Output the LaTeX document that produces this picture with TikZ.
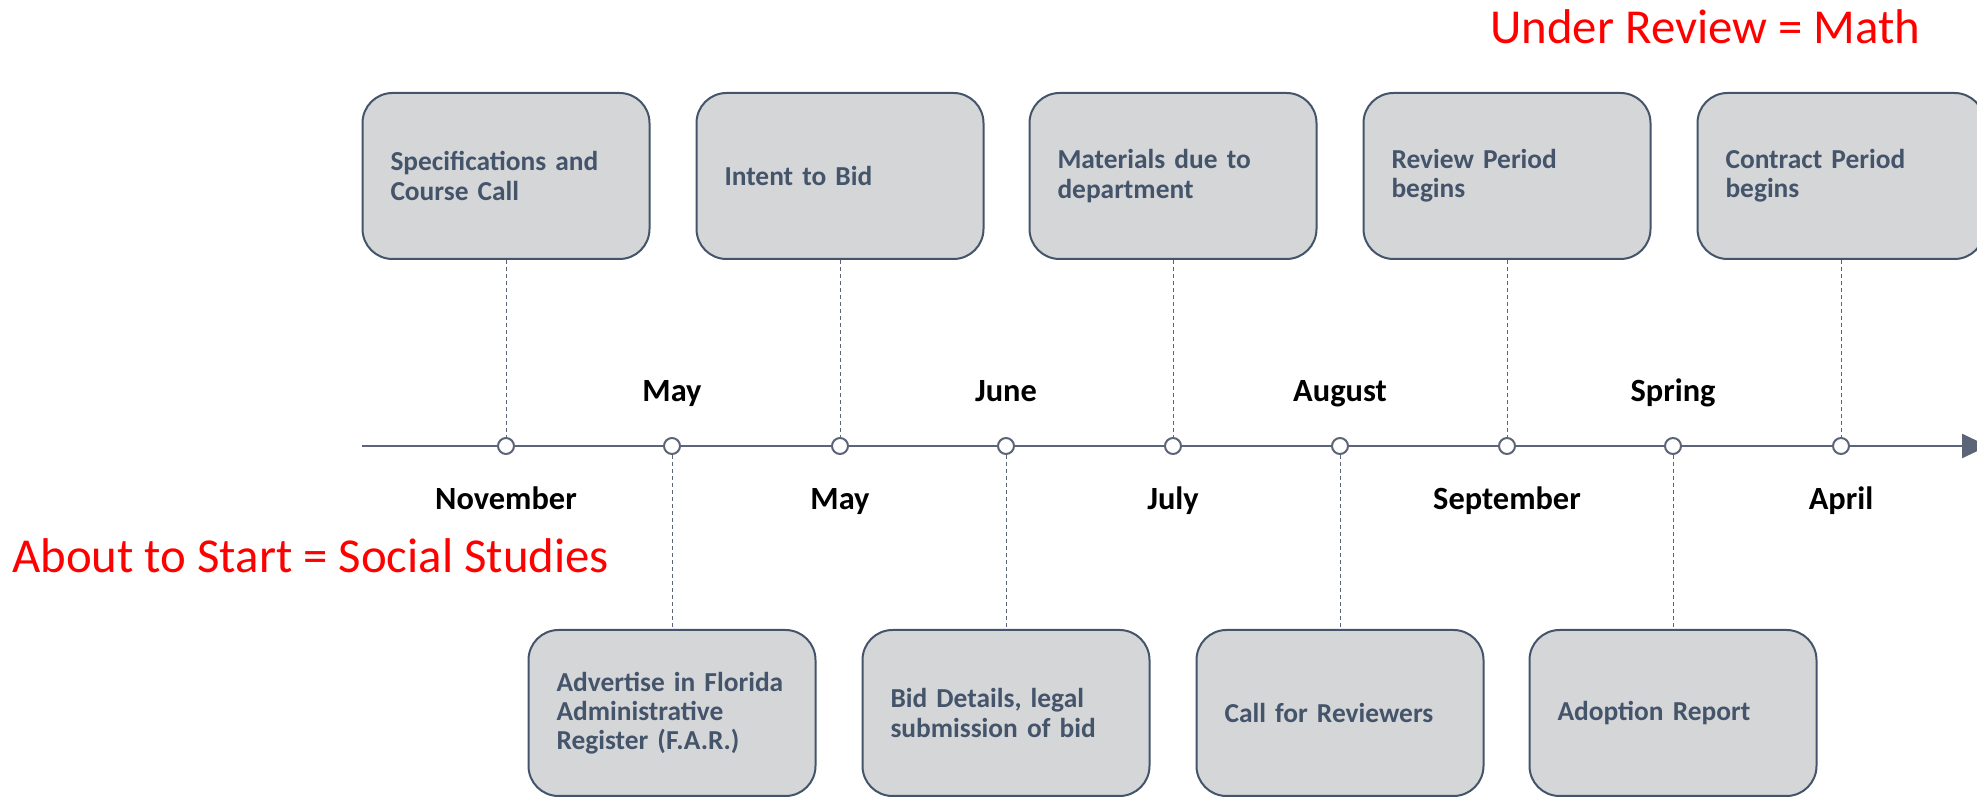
\documentclass[tikz,border=0pt]{standalone}
\usepackage{fontspec}
\setmainfont{Carlito}
\usetikzlibrary{arrows.meta}
\definecolor{slate}{HTML}{44546A}
\definecolor{boxgray}{HTML}{D5D6D8}
\definecolor{axisgray}{HTML}{5B6577}

\begin{document}
\begin{tikzpicture}[x=0.5pt,y=-0.5pt,
  event/.style={draw=slate, line width=1pt, fill=boxgray, rounded corners=15pt,
    text width=115.5pt, inner xsep=14pt, minimum height=83pt, align=left,
    text=slate, font=\fontsize{13.7}{14.6}\selectfont\bfseries},
  dot/.style={circle, draw=axisgray, fill=white, line width=1pt, minimum size=8pt, inner sep=0pt},
  month/.style={anchor=base, font=\fontsize{16.2}{18}\selectfont\bfseries},
  link/.style={draw=axisgray, line width=0.5pt, dash pattern=on 2pt off 1.5pt},
  note/.style={anchor=base west, inner sep=0pt, text=red, font=\fontsize{24.4}{28}\selectfont}]
\useasboundingbox (0,0) rectangle (1977,801);

% Time axis
\coordinate (start) at (362,446);
\coordinate (end) at (1988,446);
\draw[axisgray, line width=1.25pt, -{Triangle[length=13pt,width=12pt]}] (start) -- (end);

% Events above the axis
\node[event] (spec) at (506,176) {Specifications and\\Course Call};
\node[event] (intent) at (840,176) {Intent to Bid};
\node[event] (materials) at (1173,176) {Materials due to\\department};
\node[event] (review) at (1507,176) {Review Period\\begins};
\node[event] (contract) at (1841,176) {Contract Period\\begins};

% Events below the axis
\node[event] (advertise) at (672,713) {Advertise in Florida\\Administrative\\Register (F.A.R.)};
\node[event] (bid) at (1006,713) {Bid Details, legal\\submission of bid};
\node[event] (reviewers) at (1340,713) {Call for Reviewers};
\node[event] (adoption) at (1673,713) {Adoption Report};

% Dots on the axis
\foreach \n/\x in {1/506,2/672,3/840,4/1006,5/1173,6/1340,7/1507,8/1673,9/1841}
  \node[dot] (d\n) at (\x,446) {};

% Dashed links
\draw[link] (spec) -- (d1);
\draw[link] (d2) -- (advertise);
\draw[link] (intent) -- (d3);
\draw[link] (d4) -- (bid);
\draw[link] (materials) -- (d5);
\draw[link] (d6) -- (reviewers);
\draw[link] (review) -- (d7);
\draw[link] (d8) -- (adoption);
\draw[link] (contract) -- (d9);

% Month labels
\node[month] (m1) at (506,510) {November};
\node[month] (m2) at (672,402) {May};
\node[month] (m3) at (840,510) {May};
\node[month] (m4) at (1006,402) {June};
\node[month] (m5) at (1173,510) {July};
\node[month] (m6) at (1340,402) {August};
\node[month] (m7) at (1507,510) {September};
\node[month] (m8) at (1673,402) {Spring};
\node[month] (m9) at (1841,510) {April};

% Status notes
\node[note] (math) at (1490,44) {Under Review = Math};
\node[note] (social) at (12,573) {About to Start = Social Studies};

\end{tikzpicture}
\end{document}
